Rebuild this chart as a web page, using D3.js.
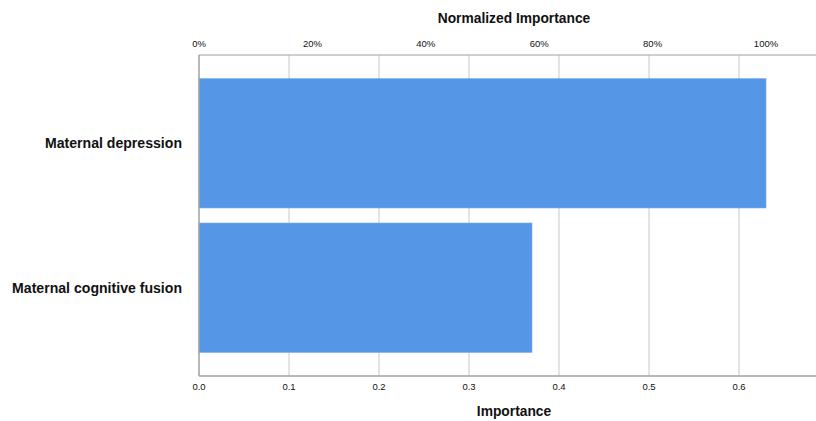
<!DOCTYPE html>
<html><head><meta charset="utf-8">
<script src="https://cdn.jsdelivr.net/npm/d3@7"></script>
<style>body{margin:0;background:#fff}svg{display:block}text{font-family:"Liberation Sans",Arial,sans-serif;fill:#111}</style>
</head><body><svg id="c" width="816" height="421"></svg>
<script>
const categories = ["Maternal depression", "Maternal cognitive fusion"];
const importance = [0.63, 0.37];
const bottomTicks = [0, 0.1, 0.2, 0.3, 0.4, 0.5, 0.6];
const topTicks = [0, 0.2, 0.4, 0.6, 0.8, 1.0];

(function () {
const svg = d3.select("#c");
const pLeft = 199, pTop = 55, pBottom = 376, pRight = 816;
const x = d3.scaleLinear().domain([0, 0.6]).range([pLeft, 739]);
const maxImp = d3.max(importance);
const xn = d3.scaleLinear().domain([0, 1]).range([x(0), x(maxImp)]);
const y = d3.scaleBand().domain(categories).range([pTop, pBottom]).paddingInner(0.104).paddingOuter(0.163);

// gridlines
svg.append("g").selectAll("line").data(bottomTicks.filter(d => d > 0)).join("line")
  .attr("x1", d => x(d)).attr("x2", d => x(d)).attr("y1", pTop).attr("y2", pBottom)
  .attr("stroke", "#d2d2d2").attr("stroke-width", 1.2);

// bars
svg.append("g").selectAll("rect").data(categories).join("rect")
  .attr("x", x(0)).attr("y", c => y(c))
  .attr("width", (c, i) => x(importance[i]) - x(0))
  .attr("height", y.bandwidth())
  .attr("fill", "#5596e6").attr("stroke", "#7aaeec").attr("stroke-width", 0.6);

// axis frame lines
svg.append("line").attr("x1", pLeft).attr("x2", pRight).attr("y1", pTop).attr("y2", pTop).attr("stroke", "#a0a0a0").attr("stroke-width", 1.2);
svg.append("line").attr("x1", pLeft).attr("x2", pRight).attr("y1", pBottom).attr("y2", pBottom).attr("stroke", "#a0a0a0").attr("stroke-width", 1.5);
svg.append("line").attr("x1", pLeft).attr("x2", pLeft).attr("y1", pTop).attr("y2", pBottom).attr("stroke", "#a0a0a0").attr("stroke-width", 1.5);

// bottom axis labels
svg.append("g").selectAll("text").data(bottomTicks).join("text")
  .attr("x", d => x(d)).attr("y", 390).attr("text-anchor", "middle")
  .attr("font-size", 9.5).text(d => d3.format(".1f")(d));

// top axis labels
svg.append("g").selectAll("text").data(topTicks).join("text")
  .attr("x", d => xn(d)).attr("y", 47).attr("text-anchor", "middle")
  .attr("font-size", 9.5).text(d => d3.format(".0%")(d));

// category labels
svg.append("g").selectAll("text").data(categories).join("text")
  .attr("x", 182).attr("y", c => y(c) + y.bandwidth() / 2 + 5)
  .attr("text-anchor", "end").attr("font-size", 14.1).attr("font-weight", "bold").text(c => c);

// titles
svg.append("text").attr("x", 514).attr("y", 23).attr("text-anchor", "middle")
  .attr("font-size", 13.8).attr("font-weight", "bold").text("Normalized Importance");
svg.append("text").attr("x", 514).attr("y", 416).attr("text-anchor", "middle")
  .attr("font-size", 13.8).attr("font-weight", "bold").text("Importance");
})();
</script></body></html>
